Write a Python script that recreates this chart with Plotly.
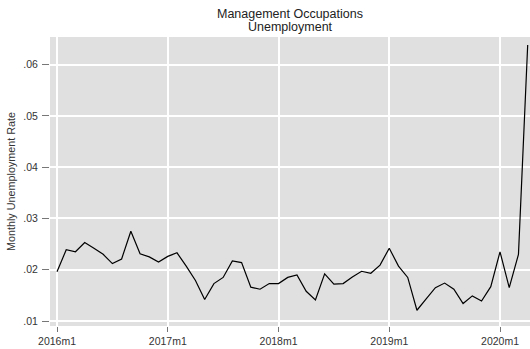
import plotly.graph_objects as go

# Monthly unemployment rate, management occupations, 2016m1 - 2020m4
years = [2016, 2017, 2018, 2019, 2020]
months = [f"{y}m{m}" for y in years for m in range(1, 13)][:52]
rate = [
    0.0196, 0.0239, 0.0235, 0.0253, 0.0242, 0.0230, 0.0212, 0.0221, 0.0275, 0.0231, 0.0225, 0.0215,
    0.0226, 0.0233, 0.0207, 0.0179, 0.0142, 0.0173, 0.0185, 0.0217, 0.0214, 0.0166, 0.0162, 0.0173,
    0.0173, 0.0185, 0.0190, 0.0158, 0.0141, 0.0192, 0.0172, 0.0173, 0.0186, 0.0197, 0.0193, 0.0209,
    0.0242, 0.0207, 0.0185, 0.0121, 0.0143, 0.0165, 0.0174, 0.0162, 0.0134, 0.0149, 0.0139, 0.0167,
    0.0235, 0.0165, 0.0230, 0.0638,
]
x_ticks = ["2016m1", "2017m1", "2018m1", "2019m1", "2020m1"]
y_ticks = [0.01, 0.02, 0.03, 0.04, 0.05, 0.06]
y_tick_labels = [".01", ".02", ".03", ".04", ".05", ".06"]
title_lines = ["Management Occupations", "Unemployment"]

idx = list(range(len(months)))
tick_idx = [months.index(t) for t in x_ticks]

FONT = "Liberation Sans, Arial, sans-serif"
TXT = "#333333"

fig = go.Figure(
    go.Scatter(
        x=idx, y=rate, mode="lines",
        line=dict(color="black", width=1.2),
        hoverinfo="skip",
    )
)

fig.update_layout(
    width=530, height=349,
    margin=dict(l=50, r=0, t=37, b=23),
    paper_bgcolor="white",
    plot_bgcolor="#e0e0e0",
    showlegend=False,
    font=dict(family=FONT, size=10.5, color=TXT),
)

fig.update_xaxes(
    range=[-0.76, 51.25],
    tickmode="array", tickvals=tick_idx, ticktext=x_ticks,
    ticks="outside", ticklen=5, tickcolor="#777777", tickwidth=1,
    showgrid=True, gridcolor="white", gridwidth=1.5,
    zeroline=False, showline=False,
    tickfont=dict(family=FONT, size=10.5, color=TXT),
)
fig.update_yaxes(
    range=[0.00903, 0.06537],
    tickmode="array", tickvals=y_ticks, ticktext=y_tick_labels,
    ticks="outside", ticklen=7, tickcolor="#777777", tickwidth=1,
    ticklabelstandoff=2,
    showgrid=True, gridcolor="white", gridwidth=1.5,
    zeroline=False, showline=False,
    tickfont=dict(family=FONT, size=10.5, color=TXT),
    title=dict(text="Monthly Unemployment Rate", font=dict(family=FONT, size=10.8, color=TXT), standoff=5),
)

# two-line title, tightly spaced
for line, ypix in zip(title_lines, [13.5, 27]):
    fig.add_annotation(
        text=line,
        xref="paper", yref="paper", x=0.5, y=1.0, yshift=37 - ypix,
        xanchor="center", yanchor="middle", showarrow=False,
        font=dict(family=FONT, size=12.5, color="#222222"),
    )

fig.write_html("out.html")
